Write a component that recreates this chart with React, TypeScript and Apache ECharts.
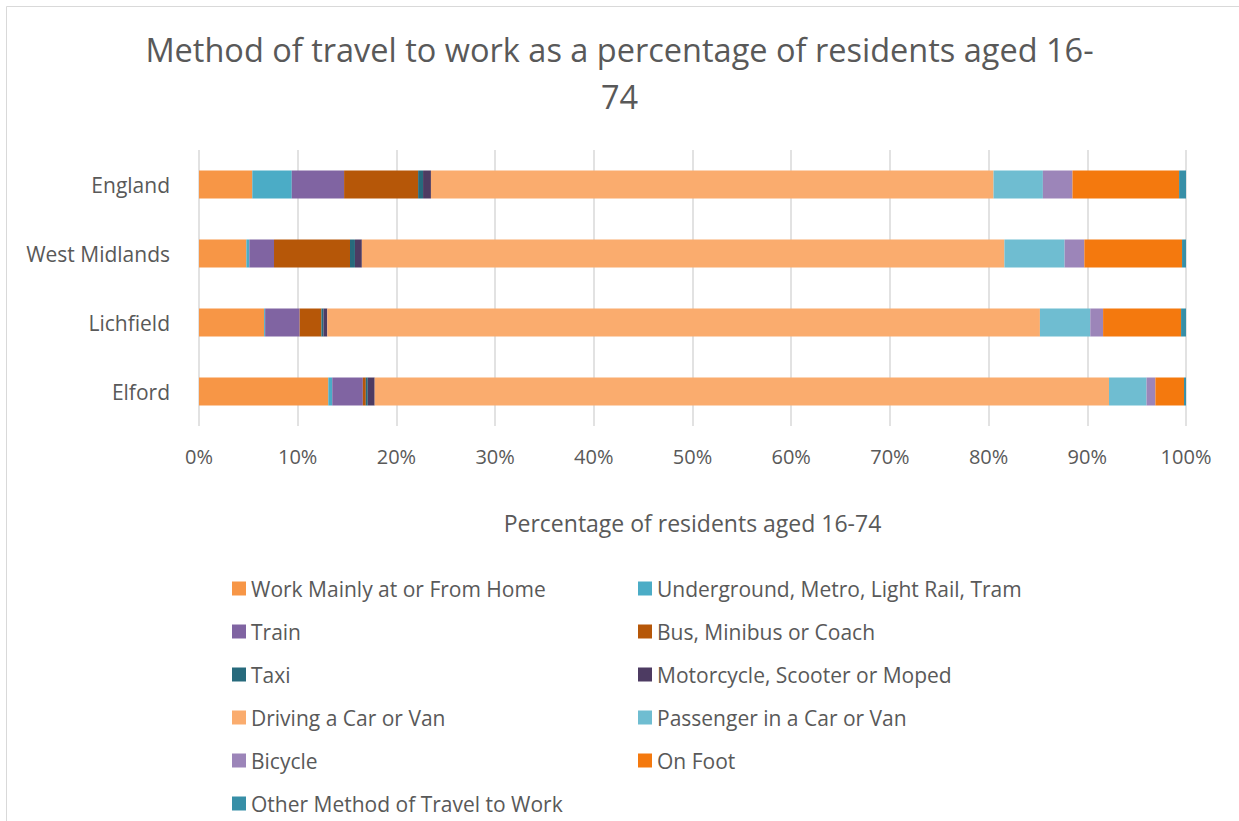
import React, { useEffect, useRef } from "react";
import * as echarts from "echarts";

const categories = ["England", "West Midlands", "Lichfield", "Elford"];

const seriesNames = [
  "Work Mainly at or From Home",
  "Underground, Metro, Light Rail, Tram",
  "Train",
  "Bus, Minibus or Coach",
  "Taxi",
  "Motorcycle, Scooter or Moped",
  "Driving a Car or Van",
  "Passenger in a Car or Van",
  "Bicycle",
  "On Foot",
  "Other Method of Travel to Work",
];

const seriesColors = [
  "#F79646",
  "#4BACC6",
  "#8064A2",
  "#B65708",
  "#276A7C",
  "#4D3B62",
  "#FAAC6E",
  "#6FBDD1",
  "#9C85B9",
  "#F4790E",
  "#378FA7",
];

// values per series, in order of categories
const workFromHome = [5.4, 4.8, 6.6, 13.1];
const underground = [4.0, 0.3, 0.1, 0.4];
const train = [5.3, 2.5, 3.5, 3.1];
const bus = [7.5, 7.7, 2.2, 0.3];
const taxi = [0.5, 0.5, 0.2, 0.2];
const motorcycle = [0.8, 0.7, 0.4, 0.7];
const driving = [57.0, 65.1, 72.2, 74.4];
const passenger = [5.0, 6.1, 5.1, 3.8];
const bicycle = [3.0, 2.0, 1.3, 0.9];
const onFoot = [10.8, 9.9, 7.9, 2.9];
const other = [0.7, 0.4, 0.5, 0.2];

const seriesValues = [
  workFromHome,
  underground,
  train,
  bus,
  taxi,
  motorcycle,
  driving,
  passenger,
  bicycle,
  onFoot,
  other,
];

const xTicks = [0, 10, 20, 30, 40, 50, 60, 70, 80, 90, 100];

const TEXT = "#595959";
const FONT = "'Open Sans', 'Noto Sans', sans-serif";

export default function App() {
  const ref = useRef<HTMLDivElement>(null);

  useEffect(() => {
    if (!ref.current) return;
    const chart = echarts.init(ref.current, undefined, { renderer: "svg" });

    const legendItem = (name: string) => ({ name, icon: "rect" });
    const leftNames = seriesNames.filter((_, i) => i % 2 === 0);
    const rightNames = seriesNames.filter((_, i) => i % 2 === 1);
    const legendBase = {
      orient: "vertical",
      itemWidth: 14,
      itemHeight: 14,
      itemGap: 22,
      selectedMode: false,
      textStyle: {
        color: TEXT,
        fontSize: 21,
        fontFamily: FONT,
        lineHeight: 21,
        padding: [0, 0, 0, 0],
      },
      padding: 0,
    };

    const totals = categories.map((_, ci) =>
      seriesValues.reduce((s, arr) => s + arr[ci], 0)
    );

    chart.setOption({
      animation: false,
      backgroundColor: "#ffffff",
      textStyle: { fontFamily: FONT },
      title: {
        text: "Method of travel to work as a percentage of residents aged 16-\n74",
        left: "center",
        top: 21,
        textStyle: {
          color: TEXT,
          fontSize: 32.5,
          fontWeight: "normal",
          fontFamily: FONT,
          lineHeight: 47,
        },
      },
      graphic: [
        {
          type: "rect",
          shape: { x: 6.5, y: 6.5, width: 1400, height: 1000 },
          style: { fill: "none", stroke: "#D9D9D9", lineWidth: 1 },
          silent: true,
          z: -10,
        },
      ],
      legend: [
        { ...legendBase, left: 232, top: 578, data: leftNames.map(legendItem) },
        { ...legendBase, left: 638, top: 578, data: rightNames.map(legendItem) },
      ],
      grid: { left: 199, right: 53, top: 150, height: 276, containLabel: false },
      xAxis: {
        type: "value",
        min: xTicks[0],
        max: xTicks[xTicks.length - 1],
        interval: 10,
        axisLabel: {
          formatter: "{value}%",
          color: TEXT,
          fontSize: 20,
          fontFamily: FONT,
          margin: 20,
        },
        axisLine: { show: false },
        axisTick: { show: false },
        splitLine: { show: true, lineStyle: { color: "#D9D9D9", width: 1.5 } },
        name: "Percentage of residents aged 16-74",
        nameLocation: "middle",
        nameGap: 85,
        nameTextStyle: { color: TEXT, fontSize: 23, fontFamily: FONT },
      },
      yAxis: {
        type: "category",
        data: categories,
        inverse: true,
        axisLine: { show: false },
        axisTick: { show: false },
        axisLabel: { color: TEXT, fontSize: 21, fontFamily: FONT, margin: 29 },
      },
      series: seriesNames.map((name, i) => ({
        name,
        type: "bar",
        stack: "total",
        barWidth: 28,
        itemStyle: { color: seriesColors[i] },
        emphasis: { disabled: true },
        data: seriesValues[i].map((v, ci) => (v / totals[ci]) * 100),
      })),
    });

    return () => chart.dispose();
  }, []);

  return (
    <div
      ref={ref}
      style={{ position: "fixed", left: 0, top: 0, width: 1239, height: 821 }}
    />
  );
}
